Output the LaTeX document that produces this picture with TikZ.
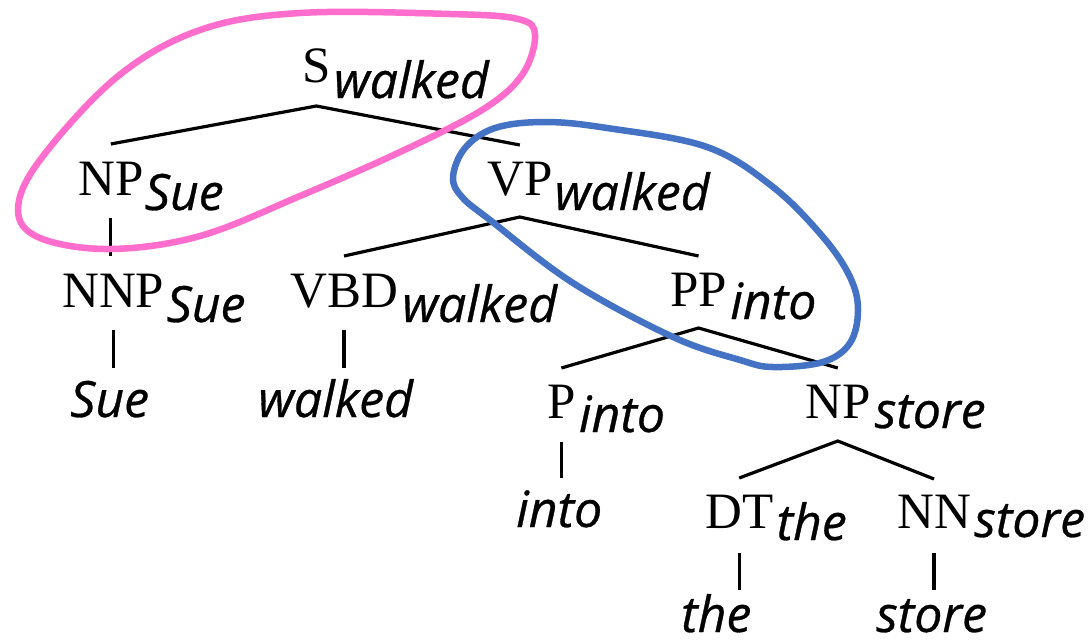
\documentclass[tikz,border=0pt]{standalone}
\usepackage{fontspec}
\setmainfont{Liberation Serif}
\newfontfamily\subf{Open Sans}[FakeBold=0.6]
\usetikzlibrary{calc}
\definecolor{pinkc}{RGB}{255,110,205}
\definecolor{bluec}{RGB}{68,114,196}
\begin{document}
\begin{tikzpicture}[x=1pt,y=-1pt,
  cat/.style={inner sep=0pt, anchor=base west, font=\fontsize{51}{51}\selectfont},
  hw/.style={inner sep=0pt, anchor=base west, font={\subf\itshape\fontsize{50}{50}\selectfont}},
  br/.style={line width=3.2pt},
  ring/.style={line width=6.5pt}]
\useasboundingbox[fill=white] (0,0) rectangle (1091,643);
% categories
\node[cat] (S) at (302,82) {S};
\node[hw] (Sh) at ([xshift=3pt,yshift=-16pt]S.base east) {walked};
\node[cat] (NP1) at (78,195) {NP};
\node[hw] (NP1h) at ([xshift=1pt,yshift=-15pt]NP1.base east) {Sue};
\node[cat] (VP) at (487,195) {VP};
\node[hw] (VPh) at ([xshift=2pt,yshift=-15pt]VP.base east) {walked};
\node[cat] (NNP) at (62,307) {NNP};
\node[hw] (NNPh) at ([xshift=2pt,yshift=-15pt]NNP.base east) {Sue};
\node[cat] (VBD) at (290,307) {VBD};
\node[hw] (VBDh) at ([xshift=4pt,yshift=-15pt]VBD.base east) {walked};
\node[cat] (PP) at (670,306) {PP};
\node[hw] (PPh) at ([xshift=3pt,yshift=-13pt]PP.base east) {into};
\node[cat] (P) at (547,418) {P};
\node[hw] (Ph) at ([xshift=3pt,yshift=-14pt]P.base east) {into};
\node[cat] (NP2) at (805,418) {NP};
\node[hw] (NP2h) at ([xshift=4pt,yshift=-10pt]NP2.base east) {store};
\node[cat] (DT) at (705,528) {DT};
\node[hw] (DTh) at ([xshift=3pt,yshift=-12pt]DT.base east) {the};
\node[cat] (NN) at (897,528) {NN};
\node[hw] (NNh) at ([xshift=3pt,yshift=-9pt]NN.base east) {store};
% words
\node[hw] (wSue) at (70,417) {Sue};
\node[hw] (wWalked) at (258,417) {walked};
\node[hw] (wInto) at (516,527) {into};
\node[hw] (wThe) at (681,632) {the};
\node[hw] (wStore) at (876,632) {store};
% branches
\draw[br] ($(NP1.base)+(0,-51)$) -- ($(S.base)+(0,24)$) -- ($(VP.base)+(0,-50)$);
\draw[br] ($(VBD.base)+(0,-51)$) -- ($(VP.base)+(0,22)$) -- ($(PP.base)+(0,-50)$);
\draw[br] ($(P.base)+(0,-50)$) -- ($(PP.base)+(0,22)$) -- ($(NP2.base)+(0,-50)$);
\draw[br] ($(DT.base)+(0,-50)$) -- ($(NP2.base)+(0,23)$) -- ($(NN.base)+(0,-49)$);
\draw[br] ($(NP1.base)+(0,23)$) -- ($(NP1.base |- NNP.base)+(0,-51)$);
\draw[br] ($(NNP.base)+(0,23)$) -- ($(NNP.base |- wSue.base)+(0,-49)$);
\draw[br] ($(VBD.base)+(0,23)$) -- ($(VBD.base |- wWalked.base)+(0,-49)$);
\draw[br] ($(P.base)+(0,24)$) -- ($(P.base |- wInto.base)+(0,-49)$);
\draw[br] ($(DT.base)+(0,25)$) -- ($(DT.base |- wThe.base)+(0,-42)$);
\draw[br] ($(NN.base)+(0,25)$) -- ($(NN.base |- wStore.base)+(0,-42)$);
% highlight loops
\draw[ring, pinkc] plot[smooth cycle, tension=0.6] coordinates {(300,13) (450,14) (518,19) (535,35) (522,75) (482,110) (400,152) (300,196) (200,236) (110,249) (40,238) (18,210) (40,160) (117,77) (200,30)};
\draw[ring, bluec] plot[smooth cycle, tension=0.6] coordinates {(453,177) (465,148) (495,128) (545,122) (607,128) (707,147) (773,187) (823,237) (850,277) (858,310) (850,343) (823,362) (773,367) (740,360) (673,337) (573,283) (490,220) (462,197)};
\end{tikzpicture}
\end{document}
